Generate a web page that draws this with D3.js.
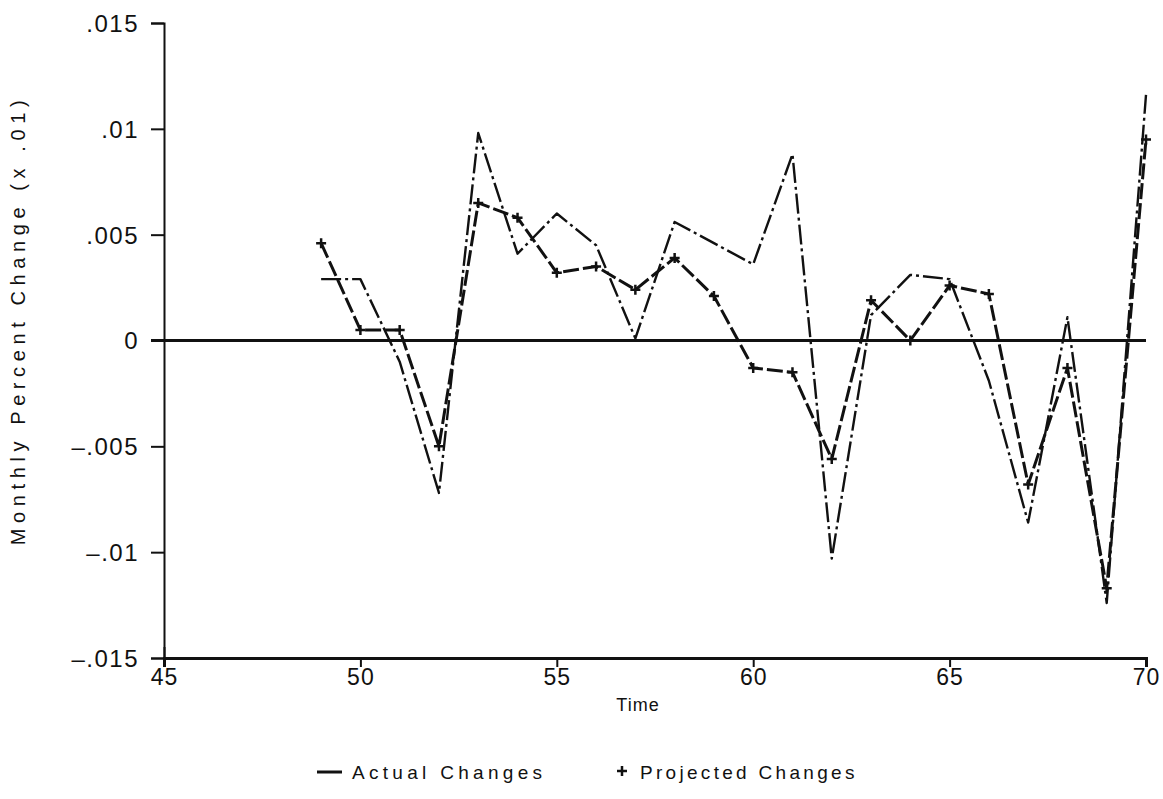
<!DOCTYPE html>
<html>
<head>
<meta charset="utf-8">
<script src="https://cdn.jsdelivr.net/npm/d3@7"></script>
<style>
  html, body { margin: 0; padding: 0; background: #fff; }
  svg { display: block; }
  text { font-family: "Liberation Sans", Arial, sans-serif; fill: #111; }
</style>
</head>
<body>
<svg id="chart" width="1163" height="799"></svg>
<script>
// Monthly observations 49..70
const months = [49, 50, 51, 52, 53, 54, 55, 56, 57, 58, 59, 60, 61, 62, 63, 64, 65, 66, 67, 68, 69, 70];
const actualChanges = [0.0029, 0.0029, -0.0010, -0.0072, 0.0098, 0.0041, 0.0060, 0.0045, 0.0001, 0.0056, 0.0046,
                       0.0036, 0.0088, -0.0103, 0.0012, 0.0031, 0.0029, -0.0019, -0.0086, 0.0011, -0.0124, 0.0116];
const projectedChanges = [0.0046, 0.0005, 0.0005, -0.0050, 0.0065, 0.0058, 0.0032, 0.0035, 0.0024, 0.0039, 0.0021,
                          -0.0013, -0.0015, -0.0056, 0.0019, 0.0000, 0.0026, 0.0022, -0.0068, -0.0013, -0.0117, 0.0095];

const xTicks = [45, 50, 55, 60, 65, 70];
const xTickLabels = ["45", "50", "55", "60", "65", "70"];
const yTicks = [0.015, 0.01, 0.005, 0, -0.005, -0.01, -0.015];
const yTickLabels = [".015", ".01", ".005", "0", "\u2013.005", "\u2013.01", "\u2013.015"];

const svg = d3.select("#chart");

const x = d3.scaleLinear().domain([45, 70]).range([164, 1146]);
const y = d3.scaleLinear().domain([-0.015, 0.015]).range([658, 23]);

// Y axis
const yAxis = d3.axisLeft(y)
  .tickValues(yTicks)
  .tickFormat((d, i) => yTickLabels[i])
  .tickSize(13)
  .tickPadding(12);
const gy = svg.append("g").attr("transform", `translate(${x(45)},0)`).call(yAxis);
gy.select(".domain").attr("stroke", "#111").attr("stroke-width", 2);
gy.selectAll(".tick line").attr("stroke", "#111").attr("stroke-width", 2);
gy.selectAll(".tick text").style("font-size", "24px").style("letter-spacing", "1.5px")
  .attr("font-family", "Liberation Sans, Arial, sans-serif")
  .attr("fill", "#111").attr("dy", "0.35em");

// X axis
const xAxis = d3.axisBottom(x)
  .tickValues(xTicks)
  .tickFormat((d, i) => xTickLabels[i])
  .tickSize(9)
  .tickPadding(2);
const gx = svg.append("g").attr("transform", `translate(0,${y(-0.015)})`).call(xAxis);
gx.select(".domain").attr("stroke", "#111").attr("stroke-width", 3);
gx.selectAll(".tick line").attr("stroke", "#111").attr("stroke-width", 2);
gx.selectAll(".tick text").style("font-size", "23px").style("letter-spacing", "1px")
  .attr("font-family", "Liberation Sans, Arial, sans-serif")
  .attr("fill", "#111");
// the first tick crosses the axis corner
gx.select(".tick line").attr("y1", -11);

// Zero reference line
svg.append("line")
  .attr("x1", x(45) - 13).attr("x2", x(70))
  .attr("y1", y(0)).attr("y2", y(0))
  .attr("stroke", "#111").attr("stroke-width", 3);

const pts = (vals) => months.map((m, i) => [m, vals[i]]);
const line = d3.line().x(d => x(d[0])).y(d => y(d[1]));

// Actual changes
svg.append("path")
  .datum(pts(actualChanges))
  .attr("d", line)
  .attr("fill", "none")
  .attr("stroke", "#111")
  .attr("stroke-width", 2.4)
  .attr("stroke-linejoin", "round")
  .attr("stroke-dasharray", "20,4,3,4");

// Projected changes
svg.append("path")
  .datum(pts(projectedChanges))
  .attr("d", line)
  .attr("fill", "none")
  .attr("stroke", "#111")
  .attr("stroke-width", 3)
  .attr("stroke-linejoin", "round")
  .attr("stroke-dasharray", "16,4");

const plus = "M-5,0H5M0,-5V5";
svg.append("g").selectAll("path")
  .data(pts(projectedChanges))
  .join("path")
  .attr("transform", d => `translate(${x(d[0])},${y(d[1])})`)
  .attr("d", plus)
  .attr("stroke", "#111")
  .attr("stroke-width", 2.5);

// Axis titles
svg.append("text")
  .attr("x", 638).attr("y", 711)
  .attr("text-anchor", "middle")
  .style("font-size", "18px")
  .style("letter-spacing", "1px")
  .text("Time");

svg.append("text")
  .attr("transform", "translate(25,320) rotate(-90)")
  .attr("text-anchor", "middle")
  .style("font-size", "20px")
  .style("letter-spacing", "5.6px")
  .text("Monthly Percent Change (x .01)");

// Legend
const legend = svg.append("g");
legend.append("line")
  .attr("x1", 317).attr("x2", 342).attr("y1", 772).attr("y2", 772)
  .attr("stroke", "#111").attr("stroke-width", 3);
legend.append("text")
  .attr("x", 352).attr("y", 779)
  .style("font-size", "19px").style("letter-spacing", "4.3px")
  .text("Actual Changes");
legend.append("path")
  .attr("transform", "translate(622,771)")
  .attr("d", plus)
  .attr("stroke", "#111").attr("stroke-width", 2.5);
legend.append("text")
  .attr("x", 640).attr("y", 779)
  .style("font-size", "19px").style("letter-spacing", "3.3px")
  .text("Projected Changes");
</script>
</body>
</html>
